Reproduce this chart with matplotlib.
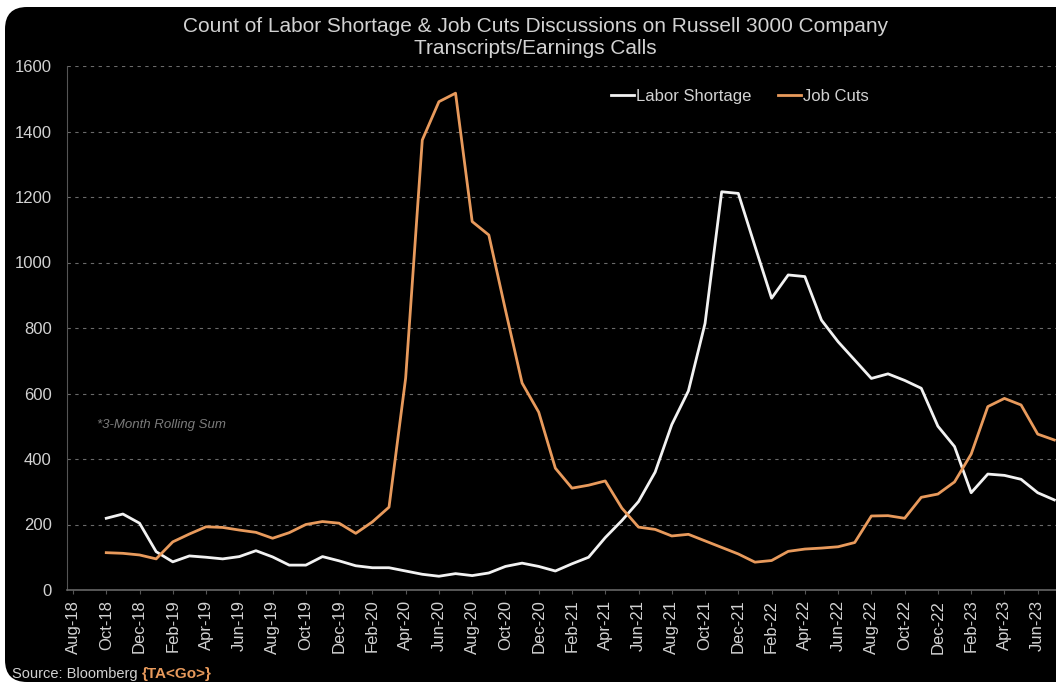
import matplotlib
matplotlib.use('Agg')
import matplotlib.pyplot as plt
from matplotlib.patches import FancyBboxPatch
from matplotlib.transforms import IdentityTransform
import pandas as pd

# monthly axis, Aug-18 .. Jul-23
months = pd.date_range('2018-08-01', periods=60, freq='MS')
tick_idx = list(range(0, 59, 2))
tick_labels = [months[i].strftime('%b-%y') for i in tick_idx]

# data starts Oct-18 (index 2)
start = 2
labor_shortage = [219, 232, 204, 117, 86, 104, 100, 95, 102, 120, 101, 76, 76, 102, 89, 74,
                  68, 68, 58, 48, 42, 50, 44, 52, 72, 82, 72, 58, 80, 100, 160, 212, 270,
                  360, 505, 608, 814, 1216, 1211, 1050, 891, 962, 957, 824, 758, 702, 646,
                  660, 640, 616, 500, 438, 297, 354, 350, 338, 297, 275]
job_cuts = [114, 112, 107, 95, 147, 171, 193, 191, 183, 176, 158, 175, 200, 209, 204, 173,
            208, 253, 647, 1374, 1491, 1517, 1125, 1084, 855, 632, 543, 372, 311, 320, 333,
            250, 192, 185, 165, 170, 150, 130, 110, 85, 90, 118, 125, 128, 132, 145, 226,
            227, 219, 283, 293, 330, 415, 560, 585, 565, 476, 458]
x = list(range(start, start + len(labor_shortage)))

plt.rcParams['font.family'] = ['Liberation Sans', 'DejaVu Sans']
txt = '#d2d2d2'
white = '#f2f2f2'
orange = '#e89a5c'

fig = plt.figure(figsize=(10.56, 6.84), dpi=100, facecolor='white')
# black rounded panel behind everything
panel = FancyBboxPatch((5, 2), 1120, 675, boxstyle='round,pad=0,rounding_size=22',
                       transform=IdentityTransform(), facecolor='black', edgecolor='none',
                       zorder=-10)
fig.patches.append(panel)

ax = fig.add_axes([67 / 1056, 1 - 590 / 684, 1 - 67 / 1056, (590 - 66) / 684])
ax.set_facecolor('black')

ax.plot(x, labor_shortage, color=white, lw=2.0, label='Labor Shortage', solid_joinstyle='round')
ax.plot(x, job_cuts, color=orange, lw=2.0, label='Job Cuts', solid_joinstyle='round')

ax.set_xlim(-0.36, 59.1)
ax.set_ylim(0, 1600)
ax.set_yticks(range(0, 1601, 200))
ax.set_xticks(tick_idx)
ax.set_xticklabels(tick_labels, rotation=90)
ax.tick_params(axis='x', colors=txt, labelsize=12, length=3, width=0.8, color='#555555', pad=4)
ax.tick_params(axis='y', colors=txt, labelsize=12, length=0, pad=11)
ax.yaxis.grid(True, color='#6a6a6a', linestyle=(0, (3, 4)), linewidth=0.8)
ax.set_axisbelow(True)
for s in ['top', 'right']:
    ax.spines[s].set_visible(False)
ax.spines['left'].set_color('#555555')
ax.spines['bottom'].set_color('#666666')
ax.spines['bottom'].set_linewidth(1.2)

leg = ax.legend(loc='upper center', bbox_to_anchor=(0.68, 0.985), ncol=2, frameon=False,
                fontsize=12, handlelength=1.4, handletextpad=0.1, columnspacing=1.6)
for t in leg.get_texts():
    t.set_color(txt)

ax.text(0.03, 0.315, '*3-Month Rolling Sum', transform=ax.transAxes, color='#7c7c7c',
        fontsize=9.5, style='italic', ha='left', va='center')

fig.text(0.507, 0.975, 'Count of Labor Shortage & Job Cuts Discussions on Russell 3000 Company\n'
         'Transcripts/Earnings Calls', ha='center', va='top', color=txt, fontsize=15,
         linespacing=1.2)

src = fig.text(12 / 1056, 1 - 674 / 684, 'Source: Bloomberg ', color=txt, fontsize=10.5,
               ha='left', va='center')
fig.canvas.draw()
bb = src.get_window_extent()
fig.text(bb.x1 / 1056, 1 - 674 / 684, '{TA<Go>}', color=orange, fontsize=11,
         fontweight='bold', ha='left', va='center')

fig.savefig('out.png', dpi=100, facecolor=fig.get_facecolor())
